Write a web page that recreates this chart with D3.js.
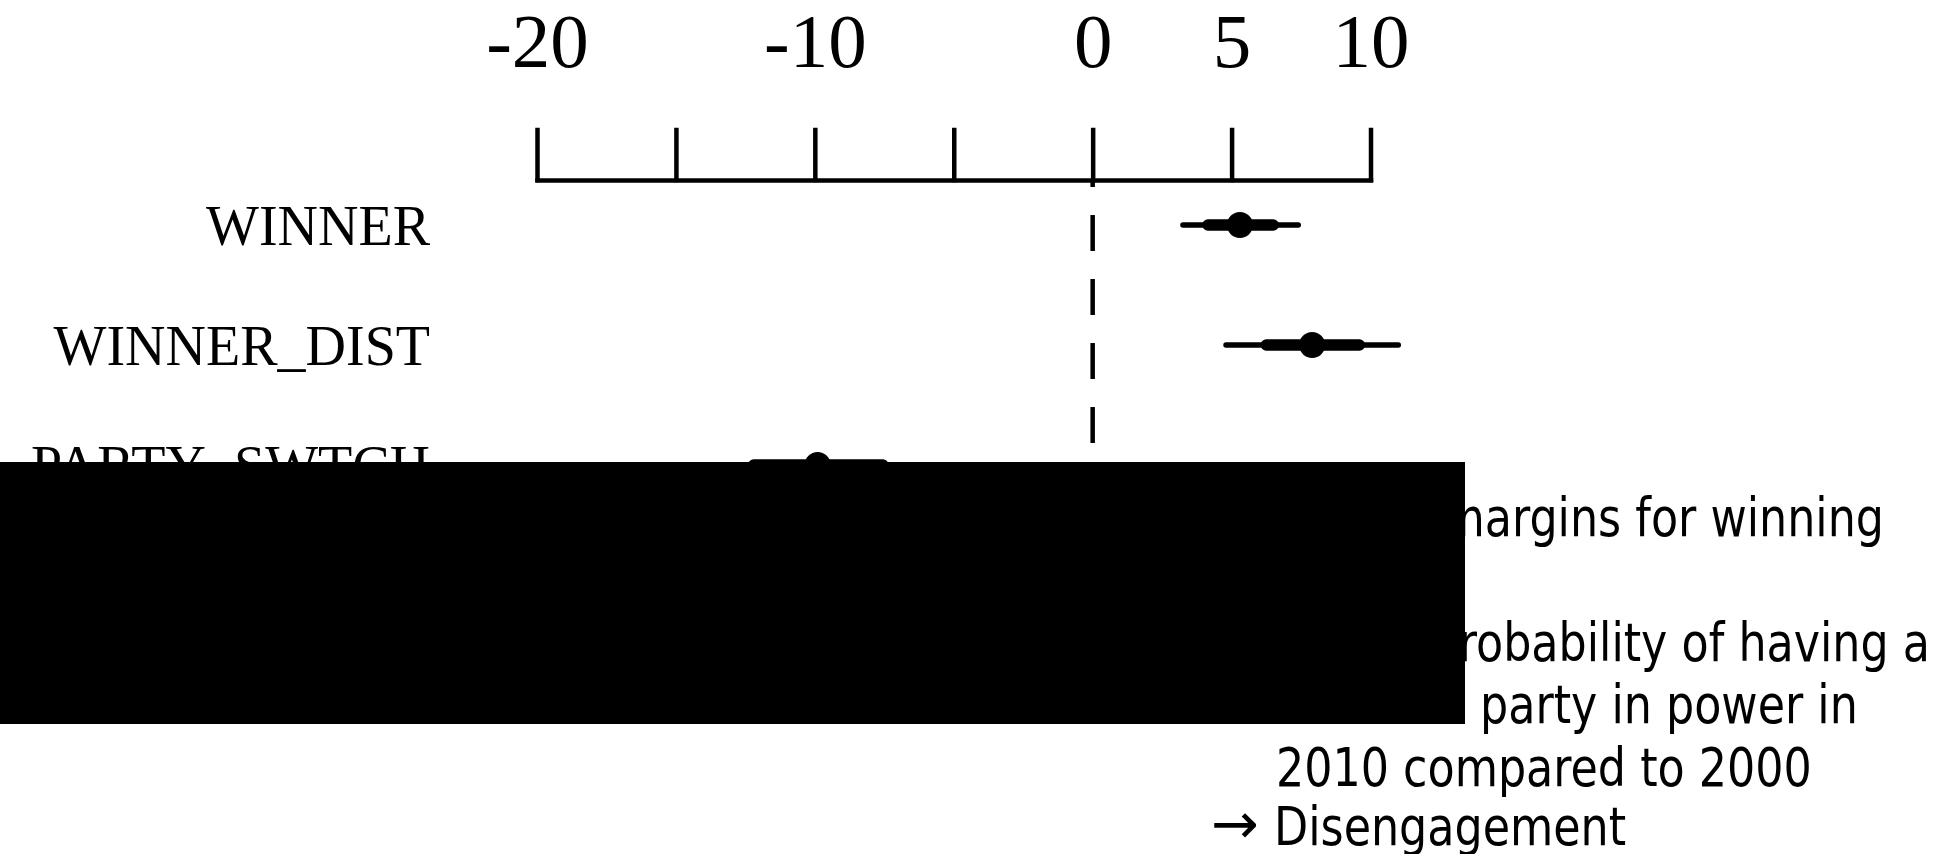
<!DOCTYPE html>
<html>
<head>
<meta charset="utf-8">
<script src="https://cdn.jsdelivr.net/npm/d3@7"></script>
<style>
  body { margin: 0; background: #fff; }
  svg { display: block; }
  .axis text { font-family: "Liberation Serif", "Times New Roman", serif; font-size: 77px; fill: #000; }
  .axis path, .axis line { stroke: #000; stroke-width: 4.5; }
  .label { font-family: "Liberation Serif", "Times New Roman", serif; font-size: 56px; fill: #000; }
  .note { font-family: "DejaVu Sans", Verdana, sans-serif; font-size: 54px; fill: #000; }
</style>
</head>
<body>
<svg width="1950" height="854"></svg>
<script>
// coefficient plot
var categories = ["WINNER", "WINNER_DIST", "PARTY_SWTCH"];
var estimate  = [5.3, 7.9, -9.9];
var innerLow  = [4.15, 6.25, -12.2];
var innerHigh = [6.5, 9.6, -7.55];
var outerLow  = [3.25, 4.8, -14.4];
var outerHigh = [7.4, 11.0, -5.5];

var tickValues = [-20, -15, -10, -5, 0, 5, 10];
var tickLabels = [-20, -10, 0, 5, 10];

var noteLines = ["margins for winning", "probability of having a", "party in power in",
                 "2010 compared to 2000", "Disengagement"];

var svg = d3.select("svg");

var x = d3.scaleLinear().domain([-20, 10]).range([537, 1370.5]);
var y = d3.scalePoint().domain(categories).range([225, 465]);

var rows = categories.map(function(c, i) {
  return {name: c, est: estimate[i], lo1: innerLow[i], hi1: innerHigh[i], lo2: outerLow[i], hi2: outerHigh[i]};
});

var axisY = 180;

svg.append("g")
    .attr("class", "axis")
    .attr("transform", "translate(0," + axisY + ")")
    .call(d3.axisTop(x)
      .tickValues(tickValues)
      .tickSize(50)
      .tickSizeOuter(0)
      .tickPadding(63)
      .tickFormat(function(d) { return tickLabels.indexOf(d) >= 0 ? String(d) : ""; }))
    .call(function(g) {
      g.select(".domain").attr("stroke-linecap", "square");
      g.selectAll(".tick line").attr("stroke-linecap", "square");
    });

// dashed zero line
svg.append("line")
    .attr("x1", x(0)).attr("x2", x(0))
    .attr("y1", axisY).attr("y2", 720)
    .attr("stroke", "#000")
    .attr("stroke-width", 4.5)
    .attr("stroke-dasharray", "36,28")
    .attr("stroke-dashoffset", 29);

var row = svg.selectAll(".row")
  .data(rows)
  .enter().append("g")
    .attr("class", "row")
    .attr("transform", function(d) { return "translate(0," + y(d.name) + ")"; });

row.append("text")
    .attr("class", "label")
    .attr("x", 430)
    .attr("y", 20)
    .attr("text-anchor", "end")
    .text(function(d) { return d.name; });

row.append("line")
    .attr("x1", function(d) { return x(d.lo2); })
    .attr("x2", function(d) { return x(d.hi2); })
    .attr("stroke", "#000").attr("stroke-width", 5.5).attr("stroke-linecap", "round");

row.append("line")
    .attr("x1", function(d) { return x(d.lo1); })
    .attr("x2", function(d) { return x(d.hi1); })
    .attr("stroke", "#000").attr("stroke-width", 11.5).attr("stroke-linecap", "round");

row.append("circle")
    .attr("cx", function(d) { return x(d.est); })
    .attr("r", 13)
    .attr("fill", "#000");

// black block over the lower part
svg.append("rect")
    .attr("x", 0).attr("y", 462)
    .attr("width", 1465).attr("height", 262)
    .attr("fill", "#000");

// notes on the right, squeezed to the slide's narrow face
var notes = svg.append("g");
var probe = notes.append("text").attr("class", "note").text(noteLines[3]);
var sx = 536 / probe.node().getComputedTextLength();
probe.remove();
notes.attr("transform", "scale(" + sx + ",1)");

function note(str, px, py, anchor) {
  notes.append("text")
      .attr("class", "note")
      .attr("x", px / sx)
      .attr("y", py)
      .attr("text-anchor", anchor)
      .text(str);
}

note(noteLines[0], 1884, 536, "end");
note(noteLines[1], 1930, 661, "end");
note(noteLines[2], 1480, 723, "start");
note(noteLines[3], 1276, 786, "start");
note(noteLines[4], 1274, 845, "start");

svg.append("text")
    .attr("class", "note")
    .attr("x", 1211)
    .attr("y", 843)
    .style("font-size", "57px")
    .text("\u2192");
</script>
</body>
</html>
